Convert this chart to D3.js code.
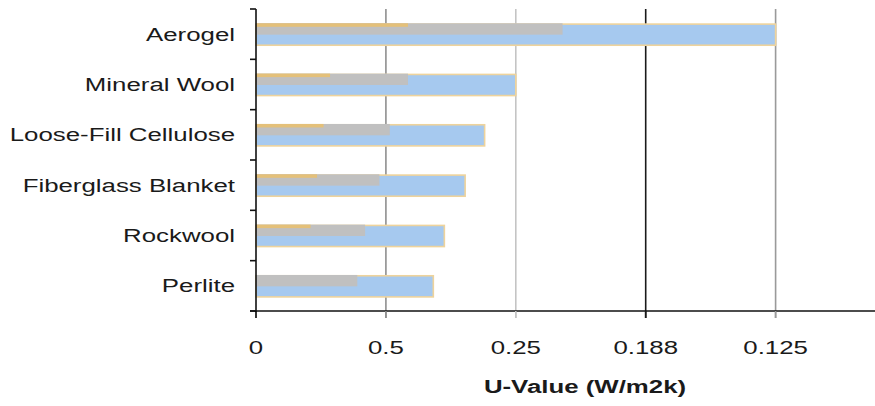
<!DOCTYPE html>
<html><head><meta charset="utf-8">
<script src="https://cdn.jsdelivr.net/npm/d3@7"></script>
<style>body{margin:0;background:#fff}svg{display:block}text{font-family:"Liberation Sans",Arial,sans-serif;fill:#1a1a1a}</style>
</head><body><svg id="c" width="875" height="406"></svg>
<script>
const categories = ["Aerogel","Mineral Wool","Loose-Fill Cellulose","Fiberglass Blanket","Rockwool","Perlite"];
const seriesOrange = [1.17, 0.57, 0.52, 0.47, 0.42, 0];
const seriesGrey   = [2.36, 1.17, 1.03, 0.95, 0.84, 0.78];
const seriesBlue   = [4.0, 2.0, 1.76, 1.61, 1.45, 1.365];
const tickValues = [0, 1, 2, 3, 4];
const tickLabels = ["0", "0.5", "0.25", "0.188", "0.125"];
const axisTitle = "U-Value (W/m2k)";

const svg = d3.select("#c");
const x = d3.scaleLinear().domain([0, 619/129.9]).range([256, 875]);
const y = d3.scaleBand().domain(categories).range([9, 311]);
const gridColors = ["#000", "#8f8f8f", "#c4c4c4", "#1a1a1a", "#9a9a9a"];
const SX = 1.36, FS = 19;

// gridlines
svg.append("g").selectAll("line").data(tickValues.slice(1)).join("line")
  .attr("x1", d => x(d)).attr("x2", d => x(d))
  .attr("y1", 9).attr("y2", 318)
  .attr("stroke", (d,i) => gridColors[i+1]).attr("stroke-width", 1.6);

const bh = y.bandwidth() * 0.42;
const g = svg.append("g");
categories.forEach((c, i) => {
  const top = y(c) + (y.bandwidth() - bh) / 2 + 0.5;
  g.append("rect").attr("x", x(0)).attr("y", top)
    .attr("width", x(seriesBlue[i]) - x(0)).attr("height", bh)
    .attr("fill", "#a6c9ef").attr("stroke", "#eed39c").attr("stroke-width", 1.6);
  g.append("rect").attr("x", x(0)).attr("y", top - 0.8)
    .attr("width", x(seriesGrey[i]) - x(0)).attr("height", bh / 2 + 0.8)
    .attr("fill", "#c0c0c0");
  if (seriesOrange[i] > 0)
    g.append("rect").attr("x", x(0)).attr("y", top - 0.8)
      .attr("width", x(seriesOrange[i]) - x(0)).attr("height", 3.5)
      .attr("fill", "#e4c079");
});

// y axis
svg.append("line").attr("x1", x(0)).attr("x2", x(0)).attr("y1", 9).attr("y2", 311)
  .attr("stroke", "#111").attr("stroke-width", 1.6);
const bounds = categories.map(c => y(c)).concat([y.range()[1]]);
svg.append("g").selectAll("line").data(bounds).join("line")
  .attr("x1", x(0) - 6).attr("x2", x(0)).attr("y1", d => d).attr("y2", d => d)
  .attr("stroke", "#111").attr("stroke-width", 1.6);
svg.append("g").selectAll("text").data(categories).join("text")
  .attr("transform", d => `translate(235,${y(d) + y.bandwidth()/2 + 6.5}) scale(${SX},1)`)
  .attr("text-anchor", "end").attr("font-size", FS).text(d => d);

// x axis
svg.append("line").attr("x1", x(0) - 6).attr("x2", 875).attr("y1", 311).attr("y2", 311)
  .attr("stroke", "#111").attr("stroke-width", 1.6);
svg.append("g").selectAll("line").data(tickValues).join("line")
  .attr("x1", d => x(d)).attr("x2", d => x(d)).attr("y1", 311).attr("y2", 318)
  .attr("stroke", (d,i) => gridColors[i]).attr("stroke-width", 1.6);
svg.append("g").selectAll("text").data(tickValues).join("text")
  .attr("transform", d => `translate(${x(d)},354) scale(${SX},1)`)
  .attr("text-anchor", "middle").attr("font-size", FS).text((d,i) => tickLabels[i]);
svg.append("text").attr("transform", `translate(585,393) scale(${SX},1)`).attr("text-anchor", "middle")
  .attr("font-size", FS).attr("font-weight", "bold").text(axisTitle);
</script></body></html>
